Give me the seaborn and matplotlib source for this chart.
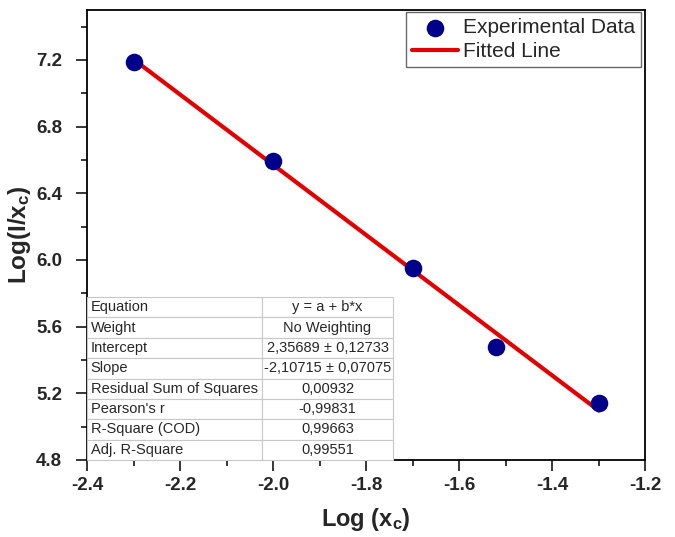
import matplotlib
matplotlib.use("Agg")
import matplotlib.pyplot as plt
import seaborn as sns
import numpy as np
import pandas as pd

# ---- data ----
x_exp = [-2.3, -2.0, -1.7, -1.52, -1.3]
y_exp = [7.19, 6.595, 5.95, 5.48, 5.14]
intercept = 2.35689
slope = -2.10715
fit_x = [-2.3, -1.3]

table_labels = ["Equation", "Weight", "Intercept", "Slope",
                "Residual Sum of Squares", "Pearson's r",
                "R-Square (COD)", "Adj. R-Square"]
table_values = ["y = a + b*x", "No Weighting", "2,35689 \u00b1 0,12733",
                "-2,10715 \u00b1 0,07075", "0,00932", "-0,99831",
                "0,99663", "0,99551"]

x_ticks = [-2.4, -2.2, -2.0, -1.8, -1.6, -1.4, -1.2]
y_ticks = [4.8, 5.2, 5.6, 6.0, 6.4, 6.8, 7.2]

# ---- style ----
sns.set_style("ticks")
plt.rcParams['font.family'] = ['Liberation Sans', 'DejaVu Sans']
plt.rcParams['mathtext.fontset'] = 'custom'
plt.rcParams['mathtext.rm'] = 'Liberation Sans:bold'
plt.rcParams['mathtext.it'] = 'Liberation Sans:bold'
plt.rcParams['mathtext.bf'] = 'Liberation Sans:bold'
plt.rcParams['mathtext.default'] = 'rm'

fig = plt.figure(figsize=(6.75, 5.37), dpi=100)
ax = fig.add_axes([0.129, 0.1434, 0.827, 0.838])

df_exp = pd.DataFrame({"x": x_exp, "y": y_exp})
df_fit = pd.DataFrame({"x": fit_x, "y": [intercept + slope * v for v in fit_x]})

sns.lineplot(data=df_fit, x="x", y="y", ax=ax, color="#e30000", linewidth=3,
             label="Fitted Line", zorder=2)
sns.scatterplot(data=df_exp, x="x", y="y", ax=ax, color="#00008b", s=160,
                edgecolor="#00008b", linewidth=0, label="Experimental Data",
                zorder=3)

ax.set_xlim(-2.4, -1.2)
ax.set_ylim(4.8, 7.5)
ax.set_xticks(x_ticks)
ax.set_yticks(y_ticks)
ax.set_xticks(np.arange(-2.3, -1.2, 0.2), minor=True)
ax.set_yticks(np.arange(5.0, 7.5, 0.4), minor=True)
ax.set_xticklabels([f"{v:.1f}" for v in x_ticks])
ax.set_yticklabels([f"{v:.1f}" for v in y_ticks])
ax.tick_params(axis='both', which='major', direction='out', length=8, width=1.3,
               labelsize=13.5)
ax.tick_params(axis='x', which='major', pad=4)
ax.tick_params(axis='y', which='major', pad=10)
ax.tick_params(axis='both', which='minor', direction='out', length=4, width=1.3)
for lab in ax.get_xticklabels() + ax.get_yticklabels():
    lab.set_fontweight('bold')
for sp in ax.spines.values():
    sp.set_linewidth(1.3)
    sp.set_color('black')

ax.set_xlabel(r"Log (x$_{c}$)", fontsize=17, fontweight='bold', labelpad=9)
ax.set_ylabel(r"Log(I/x$_{c}$)", fontsize=17.5, fontweight='bold')
ax.yaxis.set_label_coords(-0.096, 0.5)

# legend
handles, labels = ax.get_legend_handles_labels()
order = [labels.index("Experimental Data"), labels.index("Fitted Line")]
leg = ax.legend([handles[i] for i in order], [labels[i] for i in order],
                loc='upper right', bbox_to_anchor=(0.993, 0.996),
                borderaxespad=0, fontsize=15, frameon=True, fancybox=False,
                borderpad=0.3, labelspacing=0.25, handlelength=2.2,
                handletextpad=0.25, markerscale=1.0)
leg.get_frame().set_edgecolor('#444444')
leg.get_frame().set_linewidth(1.0)

# table
cell_text = [[a, b] for a, b in zip(table_labels, table_values)]
tbl = ax.table(cellText=cell_text, colWidths=[0.572, 0.428],
               bbox=[0.0, 0.0, 0.548, 0.362], zorder=5)
tbl.auto_set_font_size(False)
tbl.set_fontsize(10.5)
for (r, c), cell in tbl.get_celld().items():
    cell.set_edgecolor('#c8c8c8')
    cell.set_linewidth(0.8)
    cell.set_facecolor('white')
    if c == 0:
        cell.get_text().set_ha('left')
        cell.PAD = 0.02
    else:
        cell.get_text().set_ha('center')

fig.savefig("out.png", dpi=100)
